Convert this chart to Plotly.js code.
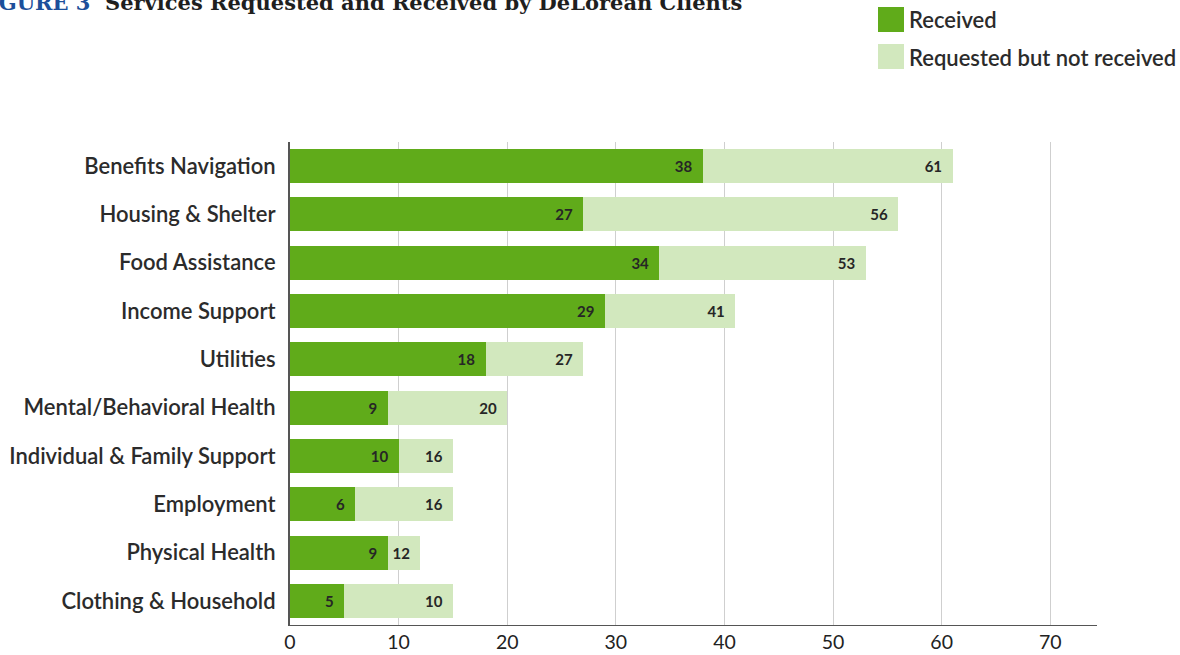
<!DOCTYPE html>
<html>
<head>
<meta charset="utf-8">
<script src="https://cdn.plot.ly/plotly-3.0.1.min.js"></script>
<style>html,body{margin:0;padding:0;background:#fff;}#chart{width:1180px;height:655px;}</style>
</head>
<body>
<div id="chart"></div>
<script>
const categories = ["Benefits Navigation","Housing & Shelter","Food Assistance","Income Support","Utilities","Mental/Behavioral Health","Individual & Family Support","Employment","Physical Health","Clothing & Household"];
const received = [38, 27, 34, 29, 18, 9, 10, 6, 9, 5];
const requestedLabel = [61, 56, 53, 41, 27, 20, 16, 16, 12, 10];
const barEnd = [61, 56, 53, 41, 27, 20, 15, 15, 12, 15];
const notReceived = barEnd.map((v, i) => v - received[i]);
const seriesNames = ["Received", "Requested but not received"];
const colors = ["#60ab1a", "#d2e8be"];

const labelFont = {family: "Lato, 'Open Sans', sans-serif", size: 15, color: "#262626", weight: 700};
const pad = "\u2002";

const traces = [
  {type: "bar", orientation: "h", y: categories, x: received, name: seriesNames[0],
   marker: {color: colors[0]}, text: received.map(v => v + pad), textposition: "inside",
   insidetextanchor: "end", textangle: 0, insidetextfont: labelFont, showlegend: false,
   hoverinfo: "x+y"},
  {type: "bar", orientation: "h", y: categories, x: notReceived, name: seriesNames[1],
   marker: {color: colors[1]}, text: requestedLabel.map(v => v + pad), textposition: "inside",
   insidetextanchor: "end", textangle: 0, insidetextfont: labelFont, showlegend: false,
   hoverinfo: "y"}
];

const legendShapes = [];
const legendAnn = [];
const W = 1180, H = 655, ml = 290, mr = 83, mt = 142, mb = 30;
const pw = W - ml - mr, ph = H - mt - mb;
const px = x => (x - ml) / pw;
const py = y => (H - mb - y) / ph;
seriesNames.forEach((n, i) => {
  const top = 7 + i * 37;
  legendShapes.push({type: "rect", xref: "paper", yref: "paper", x0: px(878), x1: px(904), y0: py(top + 25), y1: py(top),
    fillcolor: colors[i], line: {width: 0}});
  legendAnn.push({xref: "paper", yref: "paper", x: px(907), y: py(top + 13), xanchor: "left", yanchor: "middle",
    text: n, showarrow: false, font: {family: "Lato, sans-serif", size: 22, color: "#2b2b2b", weight: 600}});
});

legendAnn.push({xref: "paper", yref: "paper", x: px(-28), y: py(2), xanchor: "left", yanchor: "middle",
  text: "<span style='color:#1c4f9a'>FIGURE 3</span>  Services Requested and Received by DeLorean Clients",
  showarrow: false, font: {family: "'DejaVu Serif', serif", size: 21, color: "#1f1f1f", weight: 700}});

const layout = {
  width: W, height: H,
  margin: {l: ml, r: mr, t: mt, b: mb, pad: 0},
  barmode: "stack", bargap: 0.296,
  paper_bgcolor: "#fff", plot_bgcolor: "#fff",
  font: {family: "Lato, sans-serif", color: "#2b2b2b"},
  xaxis: {range: [0, 74.3], dtick: 10, tick0: 0, showgrid: true, gridcolor: "#cfcfcf", gridwidth: 1,
    zeroline: false, showline: true, linecolor: "#555", linewidth: 1, ticks: "",
    tickfont: {family: "Lato, sans-serif", size: 19.5, color: "#222"}, fixedrange: true},
  yaxis: {autorange: "reversed", showgrid: false, zeroline: false, showline: true, linecolor: "#555", linewidth: 2,
    ticks: "", ticklabelstandoff: 8, tickfont: {family: "Lato, sans-serif", size: 22, color: "#2b2b2b", weight: 600}},
  shapes: legendShapes,
  annotations: legendAnn,
  showlegend: false
};

Plotly.newPlot("chart", traces, layout, {displayModeBar: false, staticPlot: true});
</script>
</body>
</html>
